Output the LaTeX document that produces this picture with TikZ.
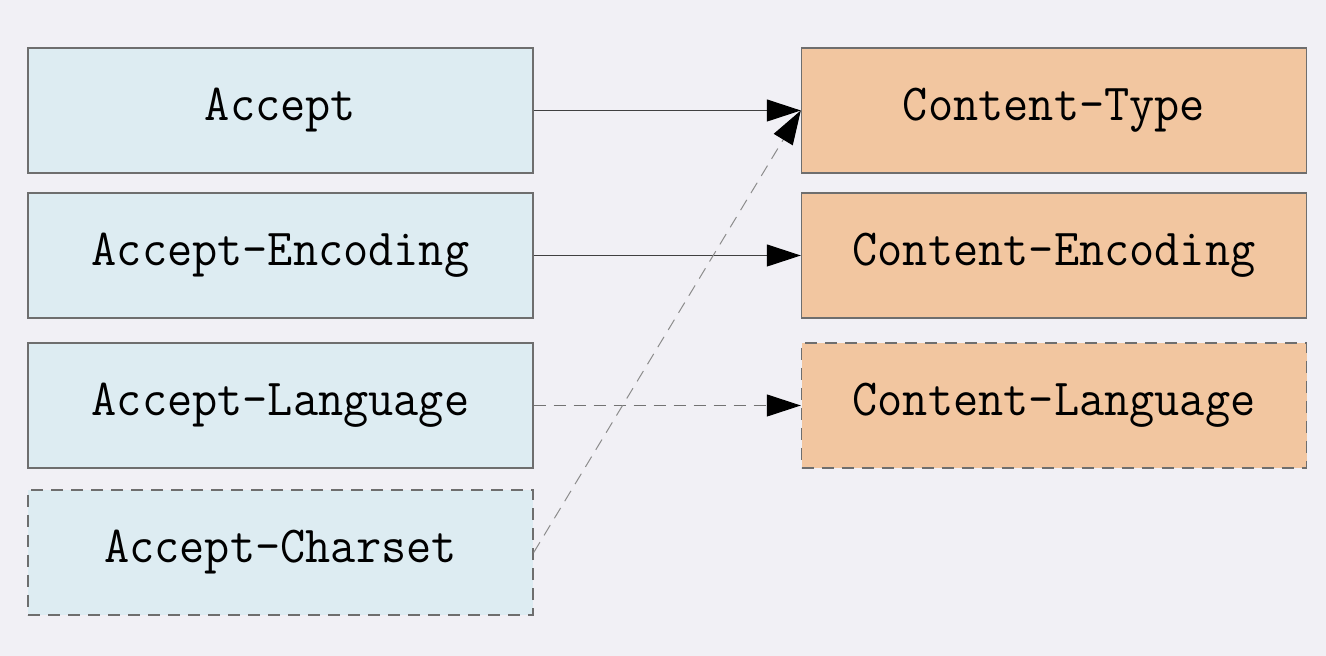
\documentclass[tikz,border=0pt]{standalone}
\usepackage{fontspec}
\setmonofont[FakeStretch=0.94]{Latin Modern Mono}
\usepackage{tikz}
\usetikzlibrary{arrows.meta}

\definecolor{bgcol}{HTML}{F1F0F5}
\definecolor{reqcol}{HTML}{DDECF2}
\definecolor{rescol}{HTML}{F2C6A0}
\definecolor{edgecol}{HTML}{6E6E6E}

\begin{document}
\begin{tikzpicture}[x=0.5pt,y=-0.5pt,
	every node/.style={rectangle,draw=edgecol,line width=0.7pt,minimum width=252.5pt,minimum height=62.5pt,inner sep=0pt,font=\ttfamily\fontsize{26}{30}\selectfont},
	req/.style={fill=reqcol},
	res/.style={fill=rescol},
	opt/.style={dash pattern=on 6pt off 4pt},
	link/.style={draw=black!75,line width=0.5pt,-{Triangle[length=17pt,width=11pt,black]}}]
			\useasboundingbox[fill=bgcol] (0,0) rectangle (1326,656);

			%left nodes
			\node [req] (acc) at (280.5,110.5) {Accept};
			\node [req] (enc) at (280.5,255.5) {Accept-Encoding};
			\node [req] (lang) at (280.5,405.5) {Accept-Language};
			\node [req,opt] (cs) at (280.5,552.5) {Accept-Charset};

			%right nodes
			\node [res] (ctype) at (1054,110.5) {Content-Type};
			\node [res] (cenc) at (1054,255.5) {Content-Encoding};
			\node [res,opt] (clang) at (1054,405.5) {Content-Language};

			%edges
			\draw[link] (acc) -- (ctype);
			\draw[link] (enc) -- (cenc);
			\draw[link,opt,draw=black!55] (lang) -- (clang);
			\draw[link,opt,draw=black!45] (cs.east) -- (ctype.west);
		\end{tikzpicture}
\end{document}
